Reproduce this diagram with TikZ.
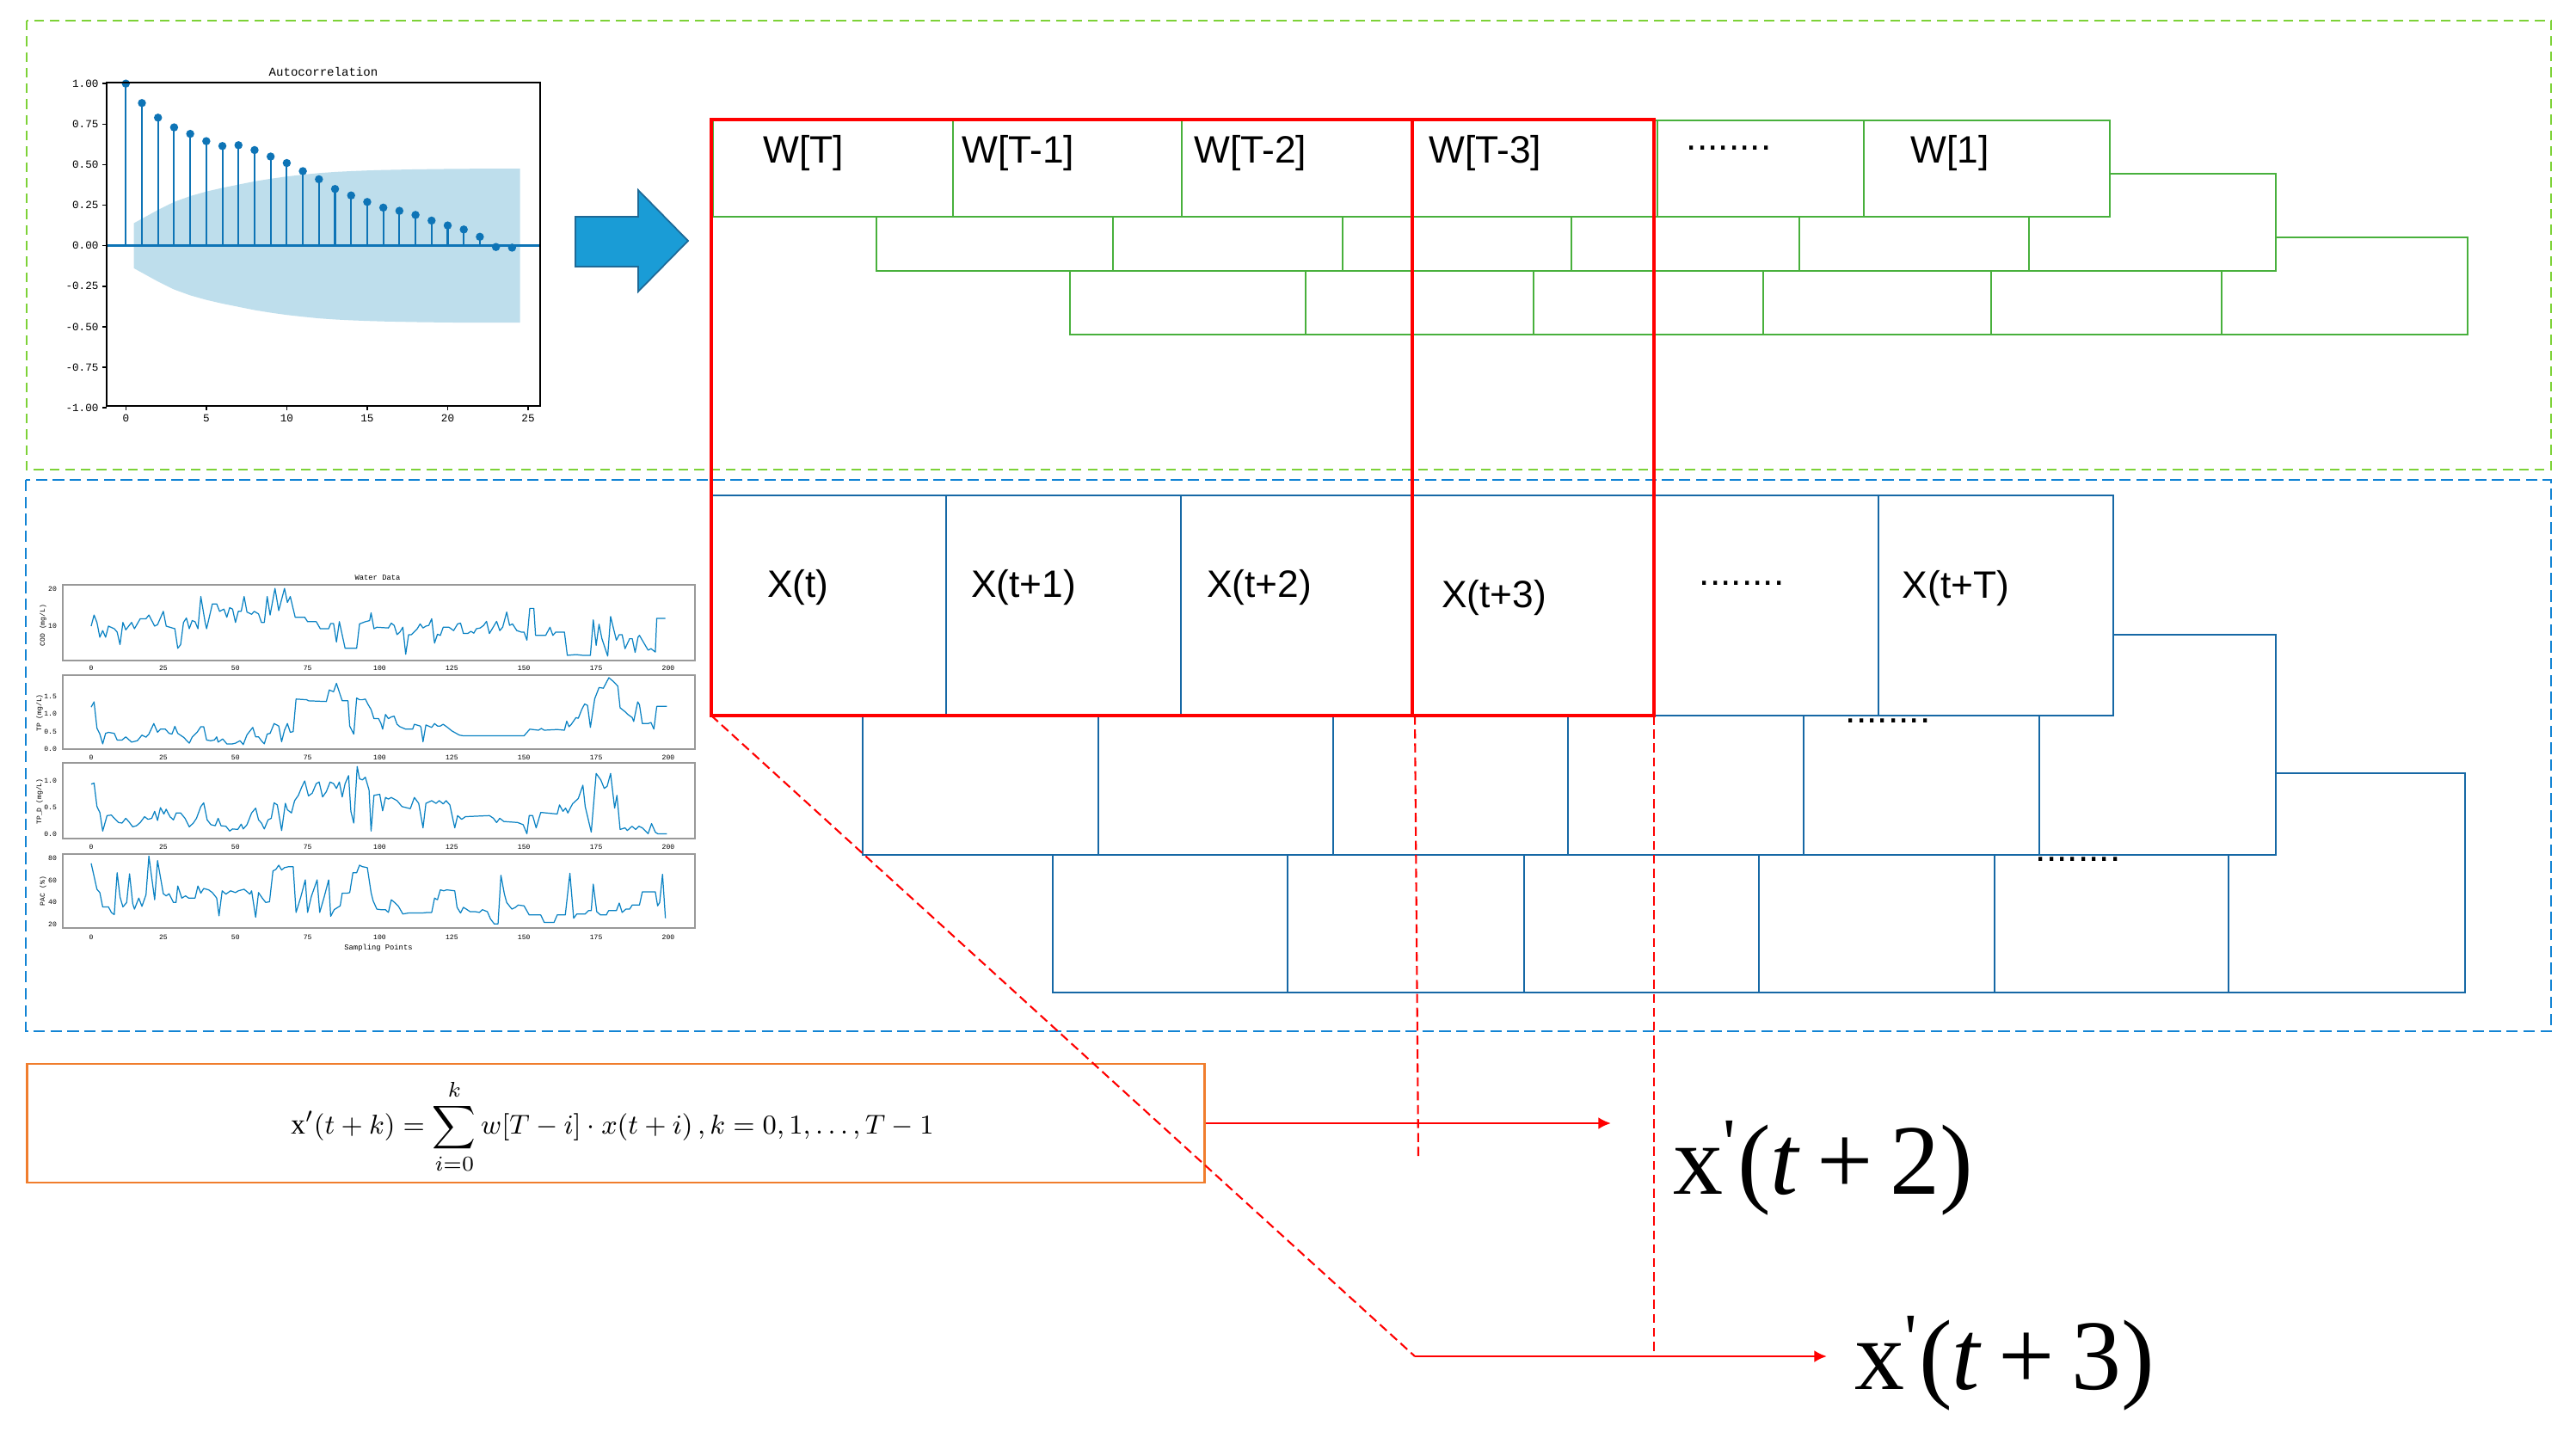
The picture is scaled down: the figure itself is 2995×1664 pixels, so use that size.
\documentclass[tikz,border=0pt]{standalone}
\usepackage{fontspec}
\setmainfont{Liberation Sans}
\newfontfamily\plotfont{Liberation Mono}
\newfontfamily\outfont{Liberation Serif}
\usetikzlibrary{arrows.meta, calc}

\definecolor{wgreen}{RGB}{72,176,60}
\definecolor{lgreen}{RGB}{125,210,55}
\definecolor{xblue}{RGB}{22,104,165}
\definecolor{dblue}{RGB}{18,132,212}
\definecolor{borange}{RGB}{240,125,45}
\definecolor{arrowfill}{RGB}{26,156,214}
\definecolor{arrowline}{RGB}{30,105,150}
\definecolor{stemblue}{RGB}{14,116,182}
\definecolor{bandblue}{RGB}{190,222,236}
\definecolor{seriesblue}{RGB}{10,130,195}

\begin{document}
\begin{tikzpicture}[x=0.01cm, y=-0.01cm,
  wcell/.style={draw=wgreen, fill=white, line width=0.75pt},
  xcell/.style={draw=xblue, fill=white, line width=0.7pt},
  cellname/.style={inner sep=0pt, font=\fontsize{12.6}{15}\selectfont},
  redline/.style={draw=red, line width=1pt},
  reddash/.style={red, line width=0.6pt, dash pattern=on 3pt off 1.6pt},
  redarrow/.style={red, line width=0.8pt, -{Latex[length=4.2pt, width=4pt]}},
  acftick/.style={inner sep=0.5pt, font=\plotfont\fontsize{3.6}{4}\selectfont},
  acfdot/.style={circle, fill=stemblue, inner sep=0pt, minimum size=2.7pt},
  wtick/.style={inner sep=0.4pt, font=\plotfont\fontsize{2.3}{3}\selectfont},
  wframe/.style={draw=black!40, line width=0.4pt},
  series/.style={seriesblue, line width=0.35pt, line join=round},
  outlbl/.style={anchor=base west, inner sep=0pt, font=\outfont\fontsize{33}{36}\selectfont}]
  \useasboundingbox (0,0) rectangle (2995,1664);
  \fill[white] (0,0) rectangle (2995,1664);

  \draw[lgreen, line width=0.7pt, dash pattern=on 3.2pt off 2pt] (31,24) rectangle (2966,546);
  \draw[dblue, line width=0.8pt, dash pattern=on 3.8pt off 1.8pt] (30,558) rectangle (2966,1199);

  % autocorrelation
  \node[inner sep=0pt, font=\plotfont\fontsize{4}{5}\selectfont] (acftitle) at (376,83) {Autocorrelation};
  \begin{scope}[shift={(146.3,285.7)}, xscale=18.71, yscale=-188.5]
    \fill[bandblue] (0.5,0.139) -- (2,0.221) -- (3,0.270) -- (4,0.306) -- (5,0.334) -- (6,0.357) -- (7,0.377) -- (8,0.397) -- (9,0.413) -- (10,0.427) -- (11,0.438) -- (12,0.448) -- (13,0.455) -- (14,0.46) -- (15,0.464) -- (16,0.467) -- (17,0.469) -- (18,0.471) -- (20,0.4735) -- (22,0.475) -- (24.5,0.475)
      -- (24.5,-0.475) -- (22,-0.475) -- (20,-0.4735) -- (18,-0.471) -- (17,-0.469) -- (16,-0.467) -- (15,-0.464) -- (14,-0.46) -- (13,-0.455) -- (12,-0.448) -- (11,-0.438) -- (10,-0.427) -- (9,-0.413) -- (8,-0.397) -- (7,-0.377) -- (6,-0.357) -- (5,-0.334) -- (4,-0.306) -- (3,-0.270) -- (2,-0.221) -- (0.5,-0.139) -- cycle;
    \foreach \l/\v in {0/1.00,1/0.88,2/0.79,3/0.73,4/0.69,5/0.645,6/0.615,7/0.62,8/0.59,9/0.55,10/0.51,11/0.46,12/0.41,13/0.35,14/0.31,15/0.27,16/0.235,17/0.215,18/0.19,19/0.155,20/0.125,21/0.10,22/0.055,23/-0.008,24/-0.012} {
      \draw[stemblue, line width=0.6pt] (\l,0) -- (\l,\v);
      \node[acfdot] (dot\l) at (\l,\v) {};
    }
  \end{scope}
  \draw[stemblue, line width=1pt] (124,285.7) -- (628,285.7);
  \draw[line width=0.45pt] (124,96) rectangle (628,472);
  \foreach \v in {1.00,0.75,0.50,0.25,0.00,-0.25,-0.50,-0.75,-1.00} {
    \pgfmathsetmacro\yy{285.7-188.5*\v}
    \draw[line width=0.4pt] (119,\yy) -- (124,\yy);
    \node[acftick, anchor=east] at (117,\yy) {\v};
  }
  \foreach \l in {0,5,...,25} {
    \pgfmathsetmacro\xx{146.3+18.71*\l}
    \draw[line width=0.4pt] (\xx,472) -- (\xx,477);
    \node[acftick, anchor=north] at (\xx,480) {\l};
  }

  \filldraw[fill=arrowfill, draw=arrowline, line width=0.5pt] (669,252) -- (742,252) -- (742,221) -- (800,280) -- (742,339) -- (742,310) -- (669,310) -- cycle;

  % water data
  \node[wtick, font=\plotfont\fontsize{2.5}{3}\selectfont] (wtitle) at (439,672) {Water Data};
  \node[wtick, font=\plotfont\fontsize{2.5}{3}\selectfont] (wxlabel) at (440,1102) {Sampling Points};
  \foreach \top/\bot/\lab in {680/768/777, 785/871/881, 887/975/985, 993/1079/1090} {
    \draw[wframe] (73,\top) rectangle (808,\bot);
    \foreach \i in {0,25,...,200} {
      \pgfmathsetmacro\xx{106+3.355*\i}
      \node[wtick] at (\xx,\lab) {\i};
    }
  }
  \node[wtick, rotate=90] (codlbl) at (50,727) {COD (mg/L)};
  \node[wtick, rotate=90] (tplbl) at (46,829) {TP (mg/L)};
  \node[wtick, rotate=90] (tpdlbl) at (46,932) {TP\_D (mg/L)};
  \node[wtick, rotate=90] (paclbl) at (50,1036) {PAC (\%)};
  \foreach \v/\yy in {20/685, 10/728, 1.5/810, 1.0/830.3, 0.5/850.6, 0.0/871, 1.0/908, 0.5/939, 0.0/970, 80/998, 60/1024, 40/1049.3, 20/1075}
    \node[wtick, anchor=east] at (68,\yy) {\v};

  \begin{scope}[shift={(106,771)}, xscale=3.355, yscale=-4.3]
    \draw[series] plot coordinates {(0,10) (1,13) (2,11) (3,7) (4,8.8) (5,7) (6,10) (8,9.3) (9,8.4) (10,5) (11,11) (12,9) (14,11) (15,9.3) (17,12) (19,12) (20,13) (22,10) (23,10.4) (25,14) (26,10) (29,9.3) (30,4) (31,5) (32,11) (33,12.2) (34,9.3) (35,11.5) (36,11.2) (37,9.3) (38,18) (39.5,11) (40,9.3) (42,16) (43.5,16) (44.5,14) (46,14.6) (47,12.4) (48,15) (49,14.6) (50,11) (51,14) (52,14) (53,18) (54,13.8) (55.6,13.2) (56.5,14) (58,13.3) (59,11) (60,11) (61,18) (62,13) (63.7,20.2) (65,14.2) (67,20.2) (68,16.4) (69,18) (70.7,12.4) (74,12.4) (75,11.2) (78,11.2) (79.4,9.3) (82.3,9.3) (83,10.7) (84,10.7) (85,5.7) (86,11.2) (88,4) (92,4) (93,10.6) (95,11.2) (96.5,11.5) (97,13.6) (98,9.3) (99,9.7) (103,9.5) (104,10.8) (105,10.2) (106,7.7) (107,8.4) (108,9.7) (109,2.4) (110,7.7) (111,7.7) (113,9.3) (114,10.6) (115,9.5) (116,10) (117,10.2) (118,12) (119,5.4) (120,7.8) (121,7.5) (122,9.7) (124,9.7) (125.6,8.8) (127,10.6) (128,10.8) (129,8) (130.5,8) (131.6,8.6) (132.6,8.1) (133.5,9.3) (134.8,9.5) (136,10.2) (137,11.3) (138,8) (139,9.3) (140.5,11.3) (141.6,8.8) (142.6,9.7) (144,13.8) (145,10.2) (146,10.6) (147.5,8.8) (149,8.4) (150,8.4) (151,6.2) (152,14.8) (153.4,14.8) (154,7.5) (157.5,7.5) (159,9.7) (160,7.5) (161,8.4) (164,8.4) (165,2.1) (168,2.3) (170.4,2.1) (173,2.1) (174,11.7) (175,4.8) (176,10.5) (177,6.6) (179,1.9) (180,12.6) (182,6.2) (183,7.7) (184,7.7) (185,3.9) (186.6,6.6) (187.5,6.6) (188.5,2.9) (189.5,7) (190,7.5) (193,3.5) (194,3.9) (195.5,3) (196,12.1) (199,12.1)};
  \end{scope}
  \begin{scope}[shift={(106,871)}, xscale=3.355, yscale=-40.7]
    \draw[series] plot coordinates {(0,1.2) (1,1.35) (2,0.6) (3,0.43) (4,0.15) (5,0.45) (6,0.48) (8,0.45) (9,0.26) (10.7,0.26) (12,0.35) (14,0.2) (16,0.24) (17.6,0.4) (19,0.34) (20,0.43) (21.7,0.73) (23,0.48) (24,0.57) (25.7,0.57) (27,0.45) (28,0.43) (29,0.65) (30,0.45) (32,0.34) (34,0.17) (35,0.34) (36.7,0.48) (38,0.64) (39,0.64) (40,0.26) (41.4,0.24) (42.7,0.26) (43.5,0.35) (44,0.2) (45.6,0.29) (47,0.15) (49,0.15) (50,0.17) (51.6,0.24) (52.7,0.13) (54,0.41) (56,0.62) (57,0.35) (58,0.35) (59,0.24) (60,0.15) (61,0.43) (62,0.45) (63.4,0.73) (65,0.66) (66,0.21) (67,0.54) (68,0.73) (69,0.48) (70,0.5) (71,1.43) (74.7,1.41) (75.3,1.38) (81.5,1.36) (82.5,1.69) (84,1.64) (85,1.88) (86.3,1.55) (87,1.38) (89,1.38) (89.6,0.66) (91,0.43) (92,1.46) (93,1.41) (94,1.41) (95,1.43) (96,1.27) (97,1.13) (98,0.87) (99.6,0.87) (100.4,0.74) (101,0.57) (102,0.99) (103,0.87) (104,0.92) (105,0.94) (106,0.71) (107,0.64) (109,0.57) (111.4,0.57) (112,0.71) (114,0.66) (114.3,0.62) (115,0.21) (116,0.69) (118,0.62) (119,0.73) (120,0.66) (121,0.66) (122,0.71) (123.5,0.62) (125,0.52) (127.6,0.4) (129,0.38) (150,0.38) (152,0.57) (155,0.54) (156,0.59) (157,0.54) (161.5,0.56) (164,0.54) (164.8,0.8) (165.6,0.64) (166.4,0.71) (168,0.9) (168.8,0.88) (170,1.13) (171,1.29) (172,1.25) (173,0.62) (174.5,1.44) (176,1.76) (177.5,1.74) (179.4,2.04) (181,1.93) (182.5,1.8) (183.3,1.18) (185,1.07) (186,0.99) (187.5,0.9) (188,0.79) (189.4,1.35) (190,1.27) (191,0.73) (193,0.73) (194,0.76) (195,0.57) (196,1.22) (199.5,1.22)};
  \end{scope}
  \begin{scope}[shift={(106,970)}, xscale=3.355, yscale=-62]
    \draw[series] plot coordinates {(0,0.94) (1,0.96) (2,0.52) (3,0.41) (4,0.06) (5.5,0.35) (7,0.36) (8,0.3) (9.5,0.22) (10.7,0.21) (12,0.3) (13,0.24) (14.4,0.14) (15.7,0.16) (17,0.22) (18.5,0.33) (19.7,0.28) (21,0.3) (22,0.43) (23,0.26) (24,0.5) (25.2,0.38) (26,0.47) (27.3,0.33) (28.5,0.27) (29.5,0.4) (31,0.4) (32.5,0.3) (34,0.14) (35.4,0.21) (36.5,0.3) (38,0.52) (39,0.59) (40.2,0.27) (41.5,0.18) (43,0.16) (44,0.3) (45,0.16) (46.7,0.15) (48,0.06) (49,0.1) (50.8,0.09) (52,0.19) (52.7,0.1) (54,0.18) (55.6,0.4) (57,0.49) (58,0.27) (59,0.21) (60,0.1) (61.3,0.27) (62.4,0.3) (63.4,0.59) (64.5,0.55) (66,0.07) (67.3,0.58) (68,0.46) (69.4,0.4) (70.5,0.63) (71.8,0.73) (73,0.89) (74,1.0) (75.3,0.72) (76.6,0.77) (78,0.95) (79,0.98) (80.2,0.7) (81.5,0.8) (82.8,0.98) (84,0.95) (85,0.86) (86,0.98) (87,0.7) (88,0.95) (89.2,1.1) (90,0.43) (91,0.21) (92.2,1.27) (93,1.04) (94,1.02) (95,1.07) (96.3,0.83) (97,0.06) (98,0.73) (100,0.75) (101,0.44) (102,0.69) (103,0.66) (104,0.69) (106,0.63) (107.7,0.52) (110.6,0.48) (112,0.69) (113.5,0.58) (115,0.12) (116,0.58) (118,0.63) (119.5,0.58) (120.6,0.63) (122,0.57) (123,0.63) (124.3,0.55) (126,0.12) (127,0.35) (128.4,0.28) (129.7,0.33) (138,0.35) (139.4,0.3) (140.5,0.22) (141.6,0.3) (143,0.24) (147.8,0.22) (149.7,0.18) (151,0.01) (151.8,0.35) (153,0.35) (154.2,0.12) (155.8,0.41) (161.5,0.38) (162.3,0.55) (163.5,0.43) (164.4,0.49) (165.2,0.4) (166.8,0.57) (168.8,0.67) (170.4,0.92) (171.2,0.52) (173.3,0.04) (175,1.14) (176.6,1.02) (177.8,0.86) (178.8,0.9) (180,1.14) (181.4,0.49) (182.2,0.73) (183.3,0.09) (185,0.12) (185.8,0.07) (187.4,0.15) (188.7,0.09) (189.8,0.15) (191,0.12) (193,0.01) (194.2,0.2) (195.5,0.04) (196.3,0.01) (199.5,0.01)};
  \end{scope}
  \begin{scope}[shift={(106,1100.67)}, xscale=3.355, yscale=-1.283]
    \draw[series] plot coordinates {(0,75.5) (2,52) (3,49) (4,36) (6,36) (7,31) (8,29) (9,67) (10,45) (11,36) (12.3,40) (13.3,66) (14.4,39) (15,34) (16.5,44) (17.6,36.5) (19,47) (20,82) (22,42.5) (23,78) (25,48) (26,46) (27,48) (28.5,40) (29.4,40) (30,55) (31.4,44) (32.7,46) (33.8,44) (36,44) (37,55) (38,48.5) (39,52.7) (40.7,51.5) (42,49) (43.5,44) (44.3,28) (45.4,50.6) (46.7,47.6) (48.3,50.6) (50,49) (51,50.6) (53,52) (55,47.6) (55.6,50.6) (57,26.6) (58,49) (59.3,44) (60.5,40) (61.8,40.7) (63,68.6) (64,70) (65,73.8) (66,69.5) (67,71.6) (68.5,72.5) (70,72.5) (71,31) (72.6,44.6) (74.2,60.5) (75,31) (76.3,45.5) (78.3,60.5) (79.2,31) (80.7,44.6) (82.3,60.5) (83,27.5) (84.2,33.5) (86.3,37) (87,48.5) (88.8,48.5) (89.6,49) (90.7,67) (92,67) (93,73.8) (94,72.5) (95.7,71.6) (97,49) (97.7,41.6) (99,34) (100.4,33.5) (102,33.5) (103,31) (104,42.5) (105.4,39.5) (106.5,36.5) (108,29.6) (110,30.5) (114.6,30.5) (116.7,31) (118,31) (119,44) (120,42.5) (121,51.5) (122.2,50.6) (123.2,51.5) (126,50.6) (126.8,35.6) (128,30.5) (129,35.6) (130,34) (131.3,31.7) (133.2,31.7) (134.5,31) (135.6,33.5) (137.3,31.7) (138.4,25) (139.7,20.6) (141,20.6) (142,64.7) (143.2,47.6) (144,40) (145.8,34) (147,35.6) (148,37.7) (150,37) (151.8,28.7) (155.8,28.7) (157,22) (160.4,22) (161.5,28.7) (164.3,28.7) (165.9,66.5) (167.2,25.7) (168.3,29.6) (171.2,29.6) (172.3,32.6) (173.3,32.6) (174,56.6) (175.2,31.7) (176.5,28.7) (178.5,28.7) (179.3,32.6) (182,32.6) (183,39.5) (184,31) (185.3,34) (186.6,34) (187.5,37.7) (190,37.7) (191,49.7) (195.5,49.7) (196.3,37) (197,40) (198,65.6) (199,25.7)};
  \end{scope}

  % weight layers, the first one on top
  \foreach \a/\b in {1244/1518,1518/1783,1783/2050,2050/2315,2315/2583,2583/2869}
    \draw[wcell] (\a,276) rectangle (\b,389);
  \foreach \a/\b in {1019/1294,1294/1561,1561/1827,1827/2092,2092/2359,2359/2646}
    \draw[wcell] (\a,202) rectangle (\b,315);
  \foreach \a/\b in {829/1108,1108/1374,1374/1642,1642/1927,1927/2167,2167/2453}
    \draw[wcell] (\a,140) rectangle (\b,252);
  \node[cellname] (wT) at (934,178) {W[T]};
  \node[cellname] (wT1) at (1184,178) {W[T-1]};
  \node[cellname] (wT2) at (1454,178) {W[T-2]};
  \node[cellname] (wT3) at (1727,178) {W[T-3]};
  \node[cellname] (wdots) at (2010,172) {........};
  \node[cellname] (w1) at (2267,178) {W[1]};

  % input layers
  \foreach \a/\b in {1224/1497,1497/1772,1772/2045,2045/2319,2319/2591,2591/2866}
    \draw[xcell] (\a,899) rectangle (\b,1154);
  \foreach \a/\b in {1003/1277,1277/1550,1550/1823,1823/2097,2097/2371,2371/2646}
    \draw[xcell] (\a,738) rectangle (\b,994);
  \foreach \a/\b in {827/1100,1100/1373,1373/1643,1643/1924,1924/2184,2184/2457}
    \draw[xcell] (\a,576) rectangle (\b,832);
  \node[cellname] (xt) at (928,683) {X(t)};
  \node[cellname] (xt1) at (1190,683) {X(t+1)};
  \node[cellname] (xt2) at (1464,683) {X(t+2)};
  \node[cellname] (xt3) at (1737,695) {X(t+3)};
  \node[cellname] (xdots1) at (2025,678) {........};
  \node[cellname] (xtT) at (2274,684) {X(t+T)};
  \node[cellname] (xdots2) at (2195,838) {........};
  \node[cellname] (xdots3) at (2416,999) {........};

  % formula and outputs
  \node[draw=borange, line width=0.8pt, minimum width=13.68cm, minimum height=1.38cm, inner sep=0pt] (formulabox) at (716,1306) {};
  \node[font=\fontsize{9.4}{11}\selectfont, inner sep=0pt] (formula) at (712,1310) {$\mbox{\outfont x}'(t+k)=\displaystyle\sum_{i=0}^{k} w[T-i]\cdot x(t+i)\,,k=0,1,\dots,T-1$};
  \node[outlbl] (out2) at (1945,1388) {x\textsuperscript{\textquotesingle}(\textit{t}\,+\,2)};
  \node[outlbl] (out3) at (2156,1615) {x\textsuperscript{\textquotesingle}(\textit{t}\,+\,3)};

  \coordinate (redNW) at (827,139);
  \coordinate (redSE) at (1923,832);
  \coordinate (redSW) at (827,832);
  \coordinate (cutN) at (1642,139);
  \coordinate (cutS) at (1645,832);
  \coordinate (drop2) at (1649,1345);
  \coordinate (bend3) at (1645,1577);
  \coordinate (tip2) at (1873,1306);
  \coordinate (tip3) at (2124,1577);
  \draw[redline] (redNW) rectangle (redSE);
  \draw[redline] (cutN) -- (cutN |- redSE);
  \draw[reddash] (redSW) -- (bend3);
  \draw[reddash] (cutS) -- (drop2);
  \draw[reddash] (redSE) -- (redSE |- tip3);
  \draw[redarrow] (formulabox.east) -- (tip2);
  \draw[redarrow] (bend3) -- (tip3);
\end{tikzpicture}
\end{document}
